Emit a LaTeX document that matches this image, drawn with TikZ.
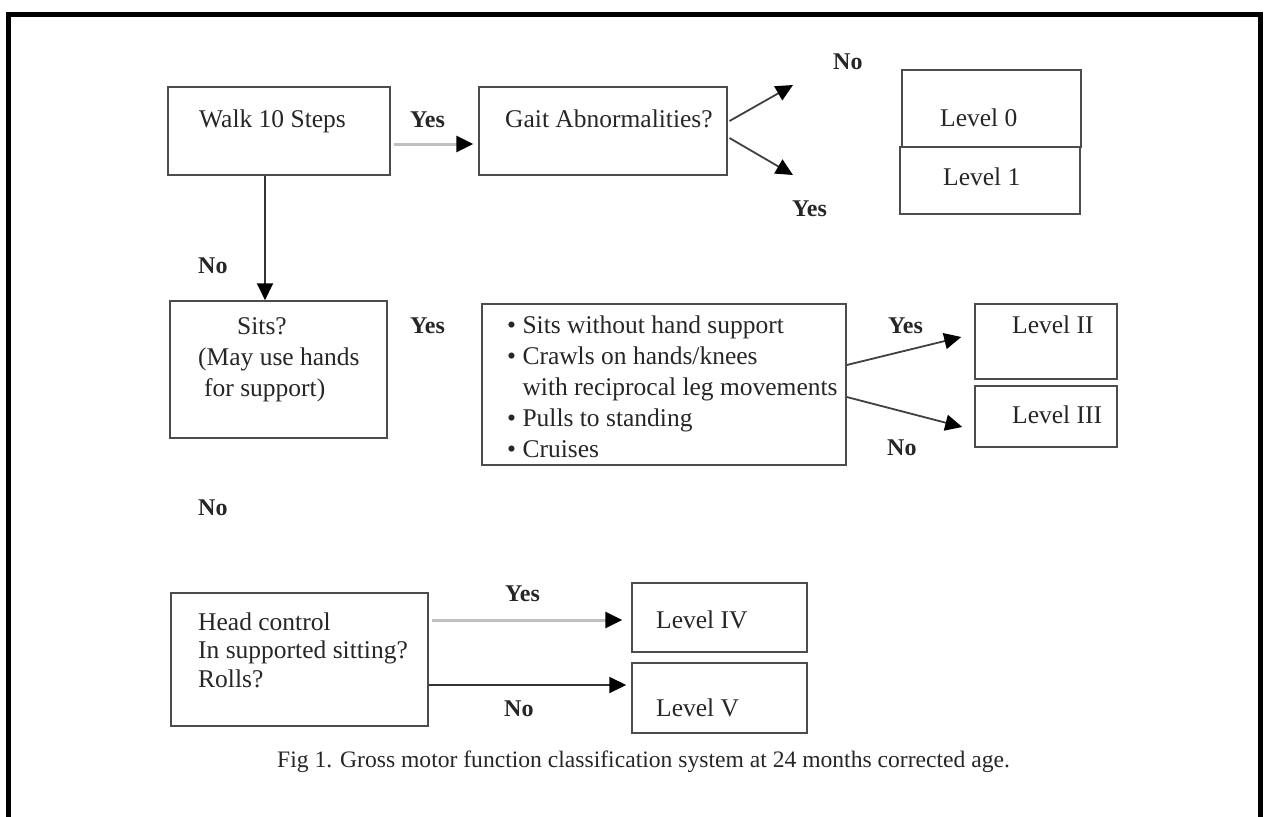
\documentclass[tikz,border=0pt]{standalone}
\usepackage{fontspec}
\setmainfont{Liberation Serif}
\usetikzlibrary{arrows.meta}

\begin{document}
\begin{tikzpicture}
[x=1pt,y=-1pt,
block/.style ={rectangle, draw=black!70, line width=1.5pt, inner sep=0pt},
txt/.style ={anchor=base west, inner sep=0pt, text=black!85, align=left,
font=\fontsize{25.5}{31}\selectfont},
yn/.style ={anchor=base west, inner sep=0pt, text=black!85,
font=\fontsize{24}{29}\selectfont\bfseries},
line/.style ={draw=black!75, line width=1.8pt,
-{Triangle[length=17pt,width=16pt,color=black]}},
greyline/.style ={line, draw=black!25, line width=3pt}]
\useasboundingbox (0,0) rectangle (1265,816);
\draw [line width=5pt] (8,830) -- (8,15) -- (1260,15) -- (1260,830);
% row 1
\node [block, minimum width=222, minimum height=88] (walk) at (279,131) {};
\node [block, minimum width=248, minimum height=88] (gait) at (603,131) {};
\node [block, minimum width=179, minimum height=77] (lvlzero) at (991.5,108.5) {};
\node [block, minimum width=180, minimum height=67] (lvlone) at (990,180.5) {};
\node [txt] (walk-t) at (199,127) {Walk 10 Steps};
\node [txt] (gait-t) at (505,127) {Gait Abnormalities?};
\node [txt] (lvlzero-t) at (940,126) {Level 0};
\node [txt] (lvlone-t) at (943,185) {Level 1};
\coordinate (gaitno) at (793,85);
\coordinate (gaityes) at (793,175);
% row 2 (multi-line texts sit on their last line)
\node [block, minimum width=217, minimum height=137] (sits) at (278.5,369.5) {};
\node [block, minimum width=364, minimum height=161] (bul) at (664,384.5) {};
\node [block, minimum width=142, minimum height=75] (lvltwo) at (1046,341.5) {};
\node [block, minimum width=142, minimum height=61] (lvlthree) at (1046,416.5) {};
\node [txt] (sits-t) at (198,396)
{\hspace*{39pt}Sits?\\(May use hands\\\hspace*{6pt}for support)};
\node [txt] (bul-t) at (507,457)
{\textbullet\ Sits without hand support\\
\textbullet\ Crawls on hands/knees\\
\phantom{\textbullet\ }with reciprocal leg movements\\
\textbullet\ Pulls to standing\\
\textbullet\ Cruises};
\node [txt] (lvltwo-t) at (1012,333) {Level II};
\node [txt] (lvlthree-t) at (1012,423) {Level III};
% row 3
\node [block, minimum width=257, minimum height=133] (head) at (299.5,659.5) {};
\node [block, minimum width=175, minimum height=69] (lvlfour) at (719.5,617.5) {};
\node [block, minimum width=175, minimum height=70] (lvlfive) at (719.5,698) {};
\node [txt, font=\fontsize{25.5}{28.5}\selectfont] (head-t) at (198,687)
{Head control\\In supported sitting?\\Rolls?};
\node [txt] (lvlfour-t) at (656,628) {Level IV};
\node [txt] (lvlfive-t) at (656,716) {Level V};
% yes / no labels
\node [yn] (yes-a) at (410,127) {Yes};
\node [yn] (no-a) at (833,69) {No};
\node [yn] (yes-b) at (792,216) {Yes};
\node [yn] (no-b) at (198,273) {No};
\node [yn] (yes-c) at (410,333) {Yes};
\node [yn] (yes-d) at (888,333) {Yes};
\node [yn] (no-c) at (887,455) {No};
\node [yn] (no-d) at (198,515) {No};
\node [yn] (yes-e) at (505,601) {Yes};
\node [yn] (no-e) at (504,716) {No};
% caption
\node [txt, font=\fontsize{23.6}{27}\selectfont] (cap) at (277,767)
{Fig 1. Gross motor function classification system at 24 months corrected age.};
\begin{scope}[every path/.style=line]
\path [greyline, shorten <=3pt] ([yshift=-13pt]walk.east) -- ([xshift=-5pt,yshift=-13pt]gait.west);
\path [shorten <=2pt] ([yshift=9pt]gait.east) -- (gaitno);
\path [shorten <=2pt] ([yshift=-6pt]gait.east) -- (gaityes);
\path [draw=black!80, line width=2pt] ([xshift=-14pt]walk.south) -- ([xshift=-13.5pt]sits.north);
\path ([yshift=19.5pt]bul.east) -- ([xshift=-13pt,yshift=4.5pt]lvltwo.west);
\path ([yshift=-12.5pt]bul.east) -- ([xshift=-12pt,yshift=-10.5pt]lvlthree.west);
\path [greyline, shorten <=3pt] ([yshift=39.5pt]head.east) -- ([xshift=-9pt,yshift=-2.5pt]lvlfour.west);
\path [draw=black!80, line width=2.2pt] ([yshift=-25.5pt]head.east) -- ([xshift=-5pt,yshift=13pt]lvlfive.west);
\end{scope}
\end{tikzpicture}
\end{document}
